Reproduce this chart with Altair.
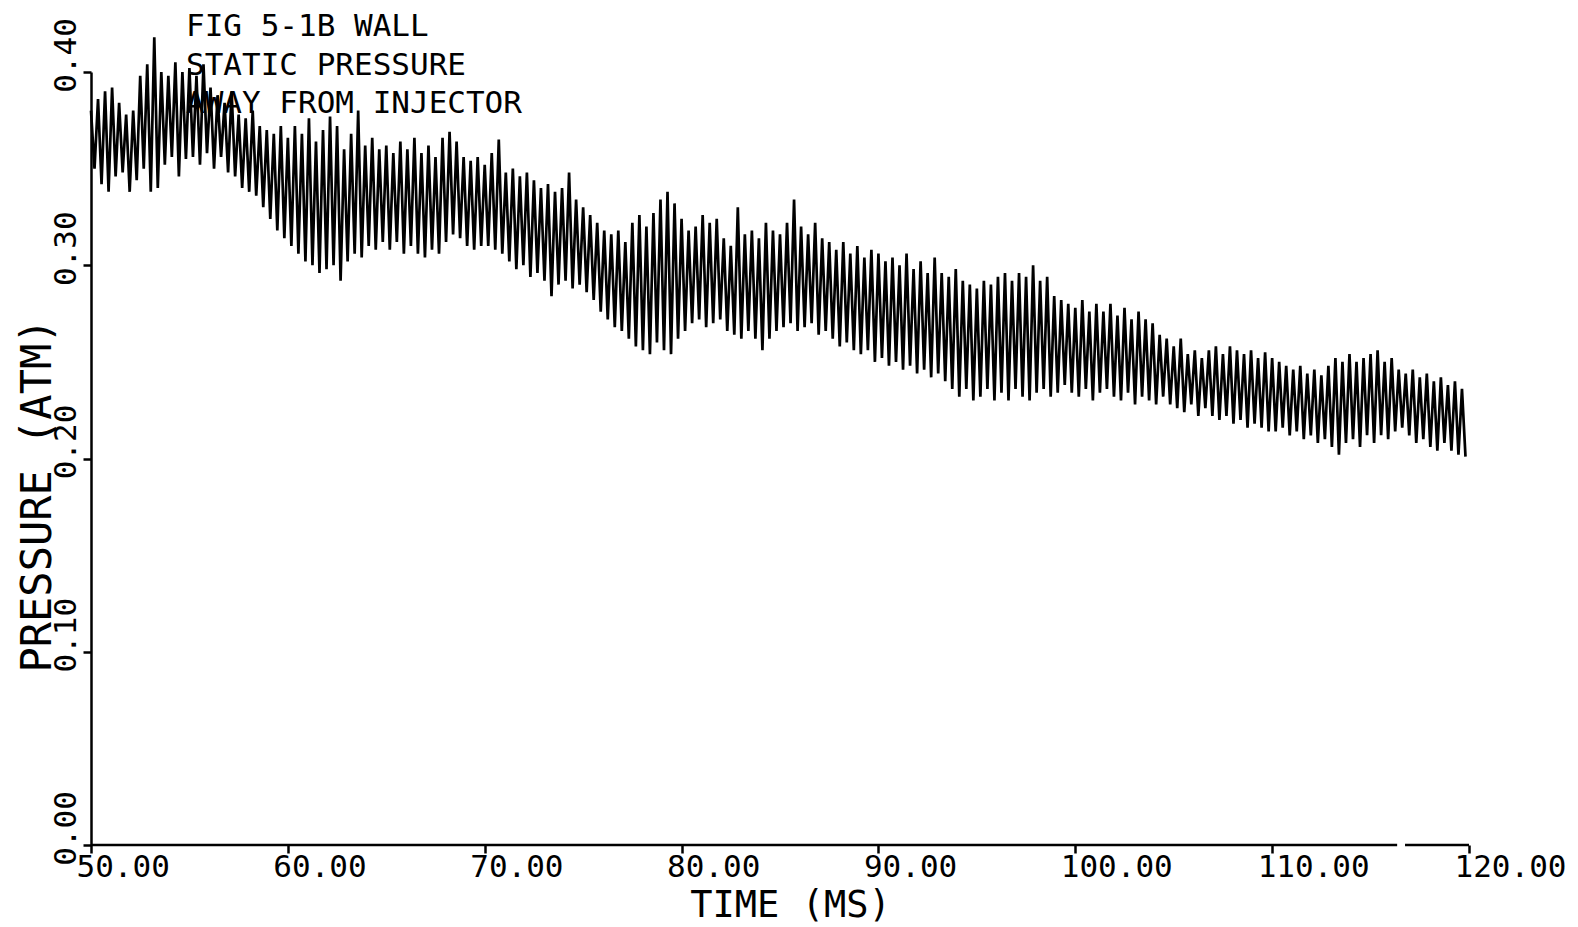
import altair as alt
import pandas as pd

# ---- data ----
start_ms = 50.0
cycle_ms = 5.0 / 14.0          # ~2.8 oscillation cycles per ms

# pressure at the top of each oscillation cycle (atm)
peak_atm = [
    0.380, 0.386, 0.390, 0.392, 0.384, 0.378, 0.380, 0.398, 0.404, 0.418, 0.400, 0.398, 0.405, 0.400,
    0.402, 0.398, 0.404, 0.392, 0.388, 0.384, 0.390, 0.378, 0.376, 0.380, 0.372, 0.370, 0.368, 0.372,
    0.366, 0.372, 0.368, 0.376, 0.364, 0.370, 0.377, 0.372, 0.360, 0.368, 0.380, 0.362, 0.366, 0.360,
    0.362, 0.358, 0.364, 0.360, 0.366, 0.358, 0.362, 0.356, 0.366, 0.369, 0.364, 0.356, 0.354, 0.356,
    0.352, 0.358, 0.365, 0.348, 0.350, 0.346, 0.348, 0.344, 0.340, 0.342, 0.338, 0.340, 0.348, 0.334,
    0.330, 0.326, 0.322, 0.318, 0.316, 0.318, 0.312, 0.322, 0.326, 0.320, 0.327, 0.334, 0.338, 0.332,
    0.324, 0.318, 0.320, 0.326, 0.322, 0.324, 0.314, 0.310, 0.330, 0.316, 0.318, 0.314, 0.322, 0.318,
    0.316, 0.322, 0.334, 0.320, 0.316, 0.322, 0.314, 0.312, 0.308, 0.312, 0.306, 0.310, 0.304, 0.308,
    0.306, 0.302, 0.304, 0.300, 0.306, 0.298, 0.302, 0.296, 0.304, 0.296, 0.294, 0.298, 0.292, 0.290,
    0.288, 0.292, 0.290, 0.294, 0.296, 0.292, 0.296, 0.294, 0.300, 0.292, 0.294, 0.284, 0.282, 0.280,
    0.278, 0.282, 0.276, 0.280, 0.276, 0.280, 0.274, 0.278, 0.272, 0.276, 0.272, 0.270, 0.264, 0.262,
    0.258, 0.262, 0.254, 0.256, 0.252, 0.256, 0.258, 0.254, 0.258, 0.256, 0.254, 0.256, 0.252, 0.255,
    0.252, 0.250, 0.248, 0.246, 0.248, 0.244, 0.246, 0.243, 0.248, 0.252, 0.250, 0.254, 0.250, 0.252,
    0.254, 0.256, 0.250, 0.252, 0.246, 0.244, 0.246, 0.242, 0.244, 0.240, 0.242, 0.238, 0.240, 0.236,
]

# pressure at the bottom of each oscillation cycle (atm)
trough_atm = [
    0.350, 0.342, 0.338, 0.346, 0.348, 0.338, 0.344, 0.350, 0.338, 0.340, 0.352, 0.356, 0.346, 0.355,
    0.356, 0.352, 0.358, 0.350, 0.356, 0.348, 0.346, 0.340, 0.338, 0.336, 0.330, 0.324, 0.318, 0.314,
    0.310, 0.306, 0.302, 0.300, 0.296, 0.298, 0.300, 0.292, 0.302, 0.306, 0.304, 0.310, 0.308, 0.312,
    0.308, 0.312, 0.306, 0.310, 0.306, 0.304, 0.308, 0.306, 0.312, 0.316, 0.314, 0.310, 0.308, 0.310,
    0.310, 0.308, 0.306, 0.302, 0.298, 0.300, 0.294, 0.296, 0.292, 0.284, 0.290, 0.292, 0.288, 0.290,
    0.286, 0.282, 0.276, 0.272, 0.268, 0.266, 0.262, 0.258, 0.256, 0.254, 0.260, 0.256, 0.254, 0.262,
    0.266, 0.270, 0.272, 0.268, 0.270, 0.272, 0.266, 0.264, 0.262, 0.266, 0.262, 0.256, 0.262, 0.266,
    0.268, 0.270, 0.266, 0.268, 0.270, 0.264, 0.266, 0.262, 0.258, 0.260, 0.256, 0.254, 0.256, 0.250,
    0.252, 0.248, 0.250, 0.246, 0.248, 0.244, 0.246, 0.242, 0.244, 0.240, 0.236, 0.232, 0.236, 0.230,
    0.232, 0.236, 0.230, 0.234, 0.230, 0.236, 0.232, 0.230, 0.234, 0.236, 0.232, 0.234, 0.238, 0.234,
    0.232, 0.236, 0.230, 0.234, 0.236, 0.232, 0.230, 0.234, 0.228, 0.232, 0.230, 0.228, 0.232, 0.228,
    0.226, 0.224, 0.228, 0.222, 0.226, 0.222, 0.220, 0.222, 0.218, 0.220, 0.216, 0.218, 0.216, 0.214,
    0.214, 0.216, 0.212, 0.214, 0.210, 0.212, 0.208, 0.210, 0.206, 0.202, 0.208, 0.210, 0.206, 0.212,
    0.208, 0.212, 0.210, 0.214, 0.216, 0.212, 0.208, 0.210, 0.206, 0.204, 0.208, 0.204, 0.202, 0.201,
]

x_ticks = [50, 60, 70, 80, 90, 100, 110, 120]
y_ticks = [0.0, 0.1, 0.2, 0.3, 0.4]
caption = "FIG 5-1B WALL\nSTATIC PRESSURE\nAWAY FROM INJECTOR"
# the plotted time axis line has a small break near 116.5 ms
axis_line_start_ms = [50.0, 116.75]
axis_line_end_ms = [116.35, 120.0]

# ---- build the zig-zag trace table ----
rows = []
for i, (hi, lo) in enumerate(zip(peak_atm, trough_atm)):
    t = start_ms + i * cycle_ms
    rows.append({"time": t, "pressure": hi, "seq": 2 * i})
    rows.append({"time": t + cycle_ms / 2, "pressure": lo, "seq": 2 * i + 1})
trace = pd.DataFrame(rows)
axis_line = pd.DataFrame({"start": axis_line_start_ms, "end": axis_line_end_ms})

FONT = "DejaVu Sans Mono"

x_scale = alt.Scale(domain=[50, 120], nice=False, zero=False)
y_scale = alt.Scale(domain=[0, 0.4], nice=False, zero=True)

x_enc = alt.X(
    "time:Q",
    scale=x_scale,
    axis=alt.Axis(
        values=x_ticks, format=".2f", title="TIME (MS)", domain=False,
        labelAlign="left", labelOffset=-15, labelBaseline="top", labelPadding=-1,
        labelFlush=False, labelOverlap=False, labelBound=False,
        titleX=699, titleY=71, titleAlign="center", titleBaseline="alphabetic",
        titleFontSize=37,
    ),
)
y_enc = alt.Y(
    "pressure:Q",
    scale=y_scale,
    axis=alt.Axis(
        values=y_ticks, format=".2f", title="PRESSURE (ATM)",
        labelAngle=270, labelAlign="center", labelBaseline="alphabetic",
        labelOffset=-17, labelPadding=8,
        labelFlush=False, labelOverlap=False, labelBound=False,
        titleAngle=270, titleX=-41, titleY=423, titleAlign="center",
        titleBaseline="alphabetic", titleFontSize=42,
    ),
)

signal = alt.Chart(trace).mark_line(color="black", strokeWidth=2.7).encode(
    x=x_enc, y=y_enc, order="seq:Q"
)

baseline_rule = alt.Chart(axis_line).mark_rule(color="black", strokeWidth=2.5).encode(
    x=alt.X("start:Q", scale=x_scale),
    x2="end:Q",
    y=alt.datum(0),
)

label = alt.Chart(pd.DataFrame({"caption": [caption]})).mark_text(
    align="left", baseline="top", font=FONT, fontSize=31, lineHeight=38.5,
    lineBreak="\n", color="black",
).encode(x=alt.value(95), y=alt.value(-60), text="caption:N")

chart = (
    alt.layer(label, signal, baseline_rule)
    .properties(
        width=1378, height=773,
        autosize=alt.AutoSizeParams(type="none"),
        padding={"left": 83, "top": 64, "right": 100, "bottom": 80},
        background="white",
    )
    .configure_view(stroke=None)
    .configure_axis(
        grid=False, domainColor="black", domainWidth=2.5,
        tickColor="black", tickWidth=2.5, tickSize=8,
        labelFont=FONT, labelFontSize=31, labelColor="black",
        titleFont=FONT, titleFontWeight="normal", titleColor="black",
    )
)

chart.save("out.html", embed_options={"renderer": "svg", "actions": False})
